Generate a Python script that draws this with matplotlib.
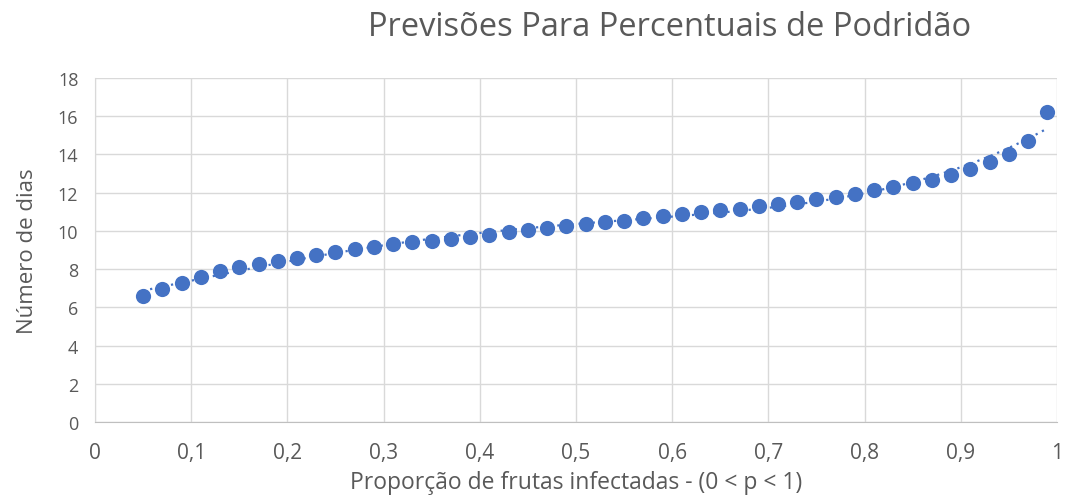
import numpy as np
import matplotlib
matplotlib.use("Agg")
import matplotlib.pyplot as plt

# Proportion of infected fruit and predicted number of days
p = [0.05, 0.07, 0.09, 0.11, 0.13, 0.15, 0.17, 0.19, 0.21, 0.23,
     0.25, 0.27, 0.29, 0.31, 0.33, 0.35, 0.37, 0.39, 0.41, 0.43,
     0.45, 0.47, 0.49, 0.51, 0.53, 0.55, 0.57, 0.59, 0.61, 0.63,
     0.65, 0.67, 0.69, 0.71, 0.73, 0.75, 0.77, 0.79, 0.81, 0.83,
     0.85, 0.87, 0.89, 0.91, 0.93, 0.95, 0.97, 0.99]
dias = [6.6, 6.96, 7.3, 7.6, 7.88, 8.1, 8.27, 8.42, 8.58, 8.72,
        8.88, 9.03, 9.15, 9.29, 9.4, 9.48, 9.6, 9.68, 9.78, 9.93,
        10.03, 10.13, 10.25, 10.36, 10.46, 10.52, 10.66, 10.77, 10.88, 10.99,
        11.1, 11.16, 11.3, 11.4, 11.52, 11.67, 11.78, 11.93, 12.12, 12.28,
        12.48, 12.68, 12.9, 13.22, 13.58, 14.02, 14.7, 16.2]

x_ticks = [0, 0.1, 0.2, 0.3, 0.4, 0.5, 0.6, 0.7, 0.8, 0.9, 1]
x_labels = ["0", "0,1", "0,2", "0,3", "0,4", "0,5", "0,6", "0,7", "0,8", "0,9", "1"]
y_ticks = list(range(0, 19, 2))

blue = "#4472C4"
grid_c = "#D9D9D9"
text_c = "#595959"
font = "Open Sans"

fig = plt.figure(figsize=(10.70, 5.02), dpi=100)
ax = fig.add_axes([0.0888, 0.157, 0.899, 0.686])

ax.scatter(p, dias, s=120, color=blue, zorder=3, linewidths=0)

# polynomial trendline through the predictions
coef = np.polyfit(p, dias, 4)
xs = np.linspace(p[0], p[-1], 300)
ax.plot(xs, np.polyval(coef, xs), color=blue, lw=1.6, ls=(0, (1, 2.2)), zorder=2)

ax.set_xlim(0, 1)
ax.set_ylim(0, 18)
ax.set_xticks(x_ticks)
ax.set_xticklabels(x_labels)
ax.set_yticks(y_ticks)
ax.grid(True, color=grid_c, lw=1)
ax.set_axisbelow(True)
for side in ["top", "right"]:
    ax.spines[side].set_visible(False)
ax.spines["left"].set_color(grid_c)
ax.spines["bottom"].set_color("#BFBFBF")
ax.tick_params(axis="y", length=0, colors=text_c, labelsize=13, pad=12)
ax.tick_params(axis="x", length=0, colors=text_c, labelsize=15, pad=14)
for lab in ax.get_xticklabels() + ax.get_yticklabels():
    lab.set_family(font)

ax.set_xlabel("Proporção de frutas infectadas - (0 < p < 1)", family=font,
              fontsize=16.5, color=text_c, labelpad=5)
ax.set_ylabel("Número de dias", family=font, fontsize=16, color=text_c,
              labelpad=14)
fig.text(0.626, 0.945, "Previsões Para Percentuais de Podridão", family=font,
         fontsize=23.5, color=text_c, ha="center", va="center")

fig.savefig("out.png", dpi=100, facecolor="white")
